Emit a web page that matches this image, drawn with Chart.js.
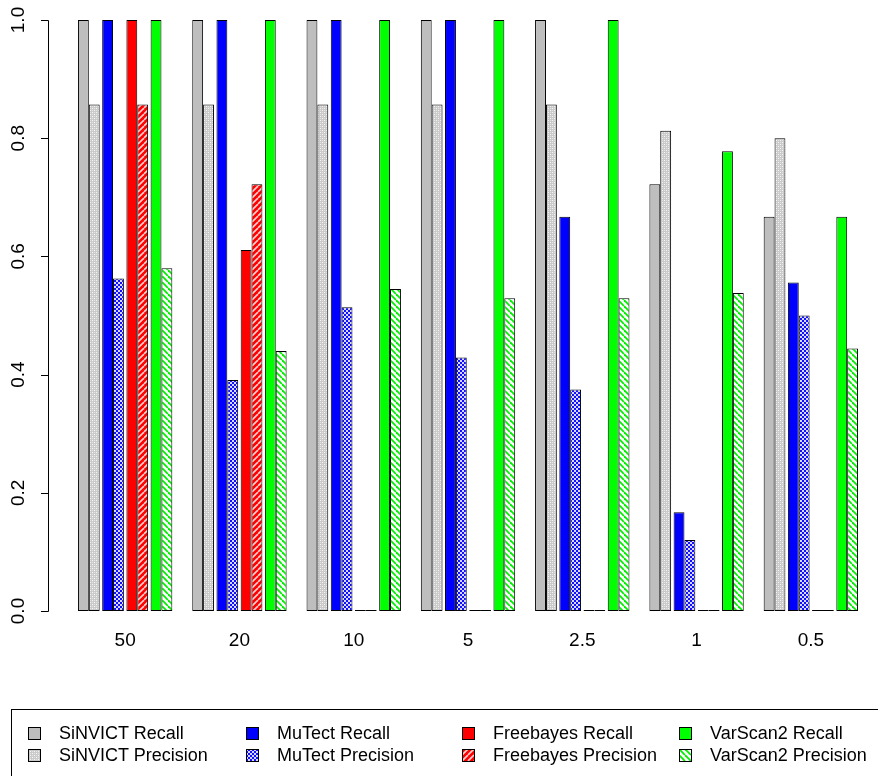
<!DOCTYPE html>
<html>
<head>
<meta charset="utf-8">
<script src="https://cdn.jsdelivr.net/npm/chart.js@4.4.1/dist/chart.umd.min.js"></script>
<style>
    html, body { margin: 0; padding: 0; background: #fff; overflow: hidden; }
    #wrap { position: relative; width: 878px; height: 776px; overflow: hidden; }
    #chart { position: absolute; left: 0; top: 0; }
    #legend {
        position: absolute; left: 11px; top: 709px; width: 900px; height: 100px;
        border: 1px solid #000; box-sizing: border-box;
        font-family: "Liberation Sans", Arial, sans-serif; font-size: 18px; color: #000;
    }
    .item { position: absolute; height: 22px; display: flex; align-items: center; white-space: nowrap; }
    .item canvas { display: block; margin-right: 18px; }
</style>
</head>
<body>
<div id="wrap">
    <canvas id="chart" width="878" height="776"></canvas>
    <div id="legend"></div>
</div>
<script>
// coverage / dilution groups
const categories = ["50", "20", "10", "5", "2.5", "1", "0.5"];

const sinvictRecall      = [1, 1, 1, 1, 1, 0.722, 0.667];
const sinvictPrecision   = [0.857, 0.857, 0.857, 0.857, 0.857, 0.8125, 0.8];
const mutectRecall       = [1, 1, 1, 1, 0.667, 0.167, 0.556];
const mutectPrecision    = [0.5625, 0.391, 0.514, 0.429, 0.375, 0.12, 0.5];
const freebayesRecall    = [1, 0.611, 0, 0, 0, 0, 0];
const freebayesPrecision = [0.857, 0.722, 0, 0, 0, 0, 0];
const varscanRecall      = [1, 1, 1, 1, 1, 0.778, 0.667];
const varscanPrecision   = [0.58, 0.44, 0.545, 0.529, 0.529, 0.538, 0.444];

const yTicks = [0, 0.2, 0.4, 0.6, 0.8, 1.0];

const FONT = "'Liberation Sans', Arial, sans-serif";

// small fill patterns, like R's density/angle shading
function makeTile(size, draw) {
    const c = document.createElement("canvas");
    c.width = size; c.height = size;
    draw(c.getContext("2d"), size);
    return c;
}

const tiles = {
    grayDots: makeTile(4, (g) => {
        g.fillStyle = "#cacaca"; g.fillRect(0, 0, 4, 4);
        g.fillStyle = "#f6f6f6"; g.fillRect(0, 0, 1, 1); g.fillRect(2, 2, 1, 1);
        g.fillStyle = "#e4e4e4"; g.fillRect(2, 0, 1, 1); g.fillRect(0, 2, 1, 1);
    }),
    blueCheck: makeTile(4, (g) => {
        g.fillStyle = "#1010ff"; g.fillRect(0, 0, 4, 4);
        g.fillStyle = "#d8d8ff"; g.fillRect(0, 0, 2, 2); g.fillRect(2, 2, 2, 2);
    }),
    redSlash: makeTile(6, (g, s) => {
        g.fillStyle = "#ff0000"; g.fillRect(0, 0, s, s);
        g.strokeStyle = "#ffd0d0"; g.lineWidth = 1.6;
        for (const k of [-s, 0, s]) { g.beginPath(); g.moveTo(k, s); g.lineTo(k + s, 0); g.stroke(); }
    }),
    greenBack: makeTile(6, (g, s) => {
        g.fillStyle = "#ffffff"; g.fillRect(0, 0, s, s);
        g.strokeStyle = "#00ee00"; g.lineWidth = 1.8;
        for (const k of [-s, 0, s]) { g.beginPath(); g.moveTo(k, 0); g.lineTo(k + s, s); g.stroke(); }
    })
};

function fillFor(ctx, kind) {
    if (typeof kind === "string" && kind.startsWith("#")) return kind;
    return ctx.createPattern(tiles[kind], "repeat");
}

const ctx = document.getElementById("chart").getContext("2d");

const seriesDefs = [
    { label: "SiNVICT Recall",       data: sinvictRecall,      fill: "#bebebe" },
    { label: "SiNVICT Precision",    data: sinvictPrecision,   fill: "grayDots" },
    { label: "MuTect Recall",        data: mutectRecall,       fill: "#0000ff" },
    { label: "MuTect Precision",     data: mutectPrecision,    fill: "blueCheck" },
    { label: "Freebayes Recall",     data: freebayesRecall,    fill: "#ff0000" },
    { label: "Freebayes Precision",  data: freebayesPrecision, fill: "redSlash" },
    { label: "VarScan2 Recall",      data: varscanRecall,      fill: "#00ff00" },
    { label: "VarScan2 Precision",   data: varscanPrecision,   fill: "greenBack" }
];

// small gap between each recall/precision pair inside a group
const pairGap = {
    id: "pairGap",
    afterDatasetsUpdate(chart) {
        chart.data.datasets.forEach((ds, i) => {
            const shift = (Math.floor(i / 2) - 1.5) * 2.5;
            chart.getDatasetMeta(i).data.forEach(bar => { bar.x += shift; });
        });
    }
};

// R style y axis: line set off to the left of the bars
const rAxis = {
    id: "rAxis",
    afterDraw(chart) {
        const y = chart.scales.y;
        const c = chart.ctx;
        const ax = 48.5;
        c.save();
        c.strokeStyle = "#000";
        c.lineWidth = 1;
        c.beginPath();
        c.moveTo(ax, Math.round(y.getPixelForValue(0)) + 0.5);
        c.lineTo(ax, Math.round(y.getPixelForValue(1)) + 0.5);
        y.ticks.forEach(t => {
            const p = Math.round(y.getPixelForValue(t.value)) + 0.5;
            c.moveTo(41, p);
            c.lineTo(ax, p);
        });
        c.stroke();
        c.restore();
    }
};

const chart = new Chart(ctx, {
    type: "bar",
    data: {
        labels: categories,
        datasets: seriesDefs.map(s => ({
            label: s.label,
            data: s.data,
            backgroundColor: fillFor(ctx, s.fill),
            borderColor: "#000",
            borderWidth: 1,
            borderSkipped: false,
            minBarLength: 1
        }))
    },
    options: {
        responsive: false,
        animation: false,
        layout: { padding: { top: 20, right: 10, bottom: 0, left: 0 } },
        categoryPercentage: 0.76,
        barPercentage: 1,
        plugins: {
            legend: { display: false },
            tooltip: { enabled: false }
        },
        scales: {
            x: {
                grid: { display: false, drawTicks: false },
                border: { display: false },
                ticks: { color: "#000", padding: 18, font: { family: FONT, size: 19 } },
                afterFit: s => { s.height = 165; s.paddingLeft = 0; s.paddingRight = 0; }
            },
            y: {
                min: 0,
                max: 1,
                grid: { display: false, drawTicks: false },
                border: { display: false },
                afterBuildTicks: s => { s.ticks = yTicks.map(v => ({ value: v })); },
                ticks: {
                    color: "#000",
                    minRotation: 90,
                    maxRotation: 90,
                    crossAlign: "center",
                    padding: 36,
                    font: { family: FONT, size: 19 },
                    callback: v => Number(v).toFixed(1)
                },
                afterFit: s => { s.width = 68; s.paddingTop = 0; s.paddingBottom = 0; }
            }
        }
    },
    plugins: [pairGap, rAxis]
});

// legend laid out column by column, like R's legend(ncol = 4)
const legendEl = document.getElementById("legend");
const colX = [0, 218, 434, 651];
const rowY = [12, 34];
chart.data.datasets.forEach((ds, i) => {
    const item = document.createElement("div");
    item.className = "item";
    item.style.left = (16 + colX[Math.floor(i / 2)]) + "px";
    item.style.top = rowY[i % 2] + "px";
    const sw = document.createElement("canvas");
    sw.width = 13; sw.height = 13;
    const g = sw.getContext("2d");
    g.fillStyle = fillFor(g, seriesDefs[i].fill);
    g.fillRect(0, 0, 13, 13);
    g.strokeStyle = "#000";
    g.lineWidth = 1;
    g.strokeRect(0.5, 0.5, 12, 12);
    const txt = document.createElement("span");
    txt.textContent = ds.label;
    item.appendChild(sw);
    item.appendChild(txt);
    legendEl.appendChild(item);
});
</script>
</body>
</html>
